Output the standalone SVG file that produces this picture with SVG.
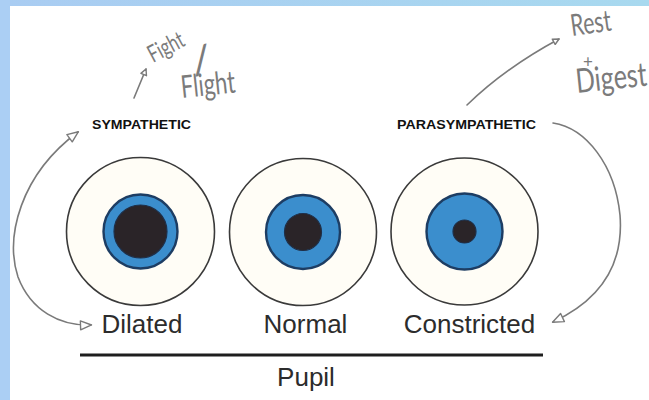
<svg xmlns="http://www.w3.org/2000/svg" width="649" height="400" viewBox="0 0 649 400">
  <defs>
    <linearGradient id="topBand" x1="0" y1="0" x2="1" y2="0">
      <stop offset="0" stop-color="#a9ccf2"/>
      <stop offset="1" stop-color="#a8d9ef"/>
    </linearGradient>
    <marker id="openHead" viewBox="0 0 14 12" refX="12" refY="6" markerWidth="14" markerHeight="12" markerUnits="userSpaceOnUse" orient="auto-start-reverse">
      <path d="M1.5,1.5 L12.5,6 L1.5,10.5 Z" fill="#ffffff" stroke="#7a7a7a" stroke-width="1.4" stroke-linejoin="round"/>
    </marker>
    <marker id="smallHead" viewBox="0 0 8 8" refX="7" refY="4" markerWidth="8" markerHeight="8" markerUnits="userSpaceOnUse" orient="auto">
      <path d="M1,1 L7,4 L1,7 Z" fill="#ffffff" stroke="#7a7a7a" stroke-width="1.4" stroke-linejoin="round"/>
    </marker>
    <style>
      .sclera { fill: #fffdf6; stroke: #3a3a3a; stroke-width: 1.6; }
      .iris { fill: #3b8ecd; stroke: #1d3d63; stroke-width: 2.4; }
      .pupil { fill: #2a2428; stroke: #1f2f48; stroke-width: 1.2; }
      .caps { font-family: "Liberation Sans", Arial, sans-serif; font-weight: bold; font-size: 13px; fill: #111111; }
      .label { font-family: "Liberation Sans", Arial, sans-serif; font-size: 26px; fill: #2c2c2c; text-anchor: middle; }
      .hand { font-family: Lato, "Open Sans", sans-serif; font-weight: 400; fill: #7b7b7b; }
      .pen { fill: none; stroke: #7a7a7a; stroke-width: 1.6; stroke-linecap: round; }
    </style>
  </defs>

  <!-- page background with the framed edges -->
  <rect x="0" y="0" width="649" height="400" fill="#ffffff"/>
  <rect x="0" y="0" width="649" height="6" fill="url(#topBand)"/>
  <rect x="0" y="0" width="10" height="400" fill="#abcff4"/>

  <!-- pupil states -->
  <g id="eye-dilated">
    <circle class="sclera" cx="140.5" cy="231.5" r="74"/>
    <circle class="iris" cx="140.5" cy="231.5" r="37"/>
    <circle class="pupil" cx="140.5" cy="231.5" r="26.5"/>
    <text class="label" x="142" y="333">Dilated</text>
  </g>
  <g id="eye-normal">
    <circle class="sclera" cx="303" cy="232" r="73.5"/>
    <circle class="iris" cx="303" cy="232" r="37"/>
    <circle class="pupil" cx="303" cy="232" r="18.5"/>
    <text class="label" x="305.5" y="333">Normal</text>
  </g>
  <g id="eye-constricted">
    <circle class="sclera" cx="464.5" cy="231.5" r="73.5"/>
    <circle class="iris" cx="464.5" cy="231.5" r="38"/>
    <circle class="pupil" cx="464.5" cy="231.5" r="11.5"/>
    <text class="label" x="469.5" y="333">Constricted</text>
  </g>

  <!-- shared axis -->
  <g id="axis">
    <line x1="80" y1="355" x2="543" y2="355" stroke="#1e1e1e" stroke-width="3"/>
    <text class="label" x="306" y="386" font-size="25">Pupil</text>
  </g>

  <!-- nervous system headings -->
  <g id="sympathetic">
    <text class="caps" x="92" y="129" textLength="99" lengthAdjust="spacingAndGlyphs">SYMPATHETIC</text>
  </g>
  <g id="parasympathetic">
    <text class="caps" x="397" y="129" textLength="139" lengthAdjust="spacingAndGlyphs">PARASYMPATHETIC</text>
  </g>

  <!-- handwritten notes -->
  <g id="note-fight-flight">
    <text class="hand" font-size="20" transform="translate(153 63) rotate(-28) scale(0.85 1.2)">Fight</text>
    <text class="hand" font-size="40" transform="translate(194 75) rotate(-8)">/</text>
    <text class="hand" font-size="26" transform="translate(182 98) rotate(-6) scale(0.85 1.2)">Flight</text>
  </g>
  <g id="note-rest-digest">
    <text class="hand" font-size="25" transform="translate(572 36) rotate(-8) scale(0.85 1.2)">Rest</text>
    <text class="hand" font-size="17" x="583" y="68">+</text>
    <text class="hand" font-size="28" transform="translate(577 93) rotate(-6) scale(0.9 1.2)">Digest</text>
  </g>

  <!-- connectors -->
  <g id="connectors">
    <path class="pen" d="M91,325 C60,326 31,311 18,277 C5,237 20,175 78,132" marker-start="url(#openHead)" marker-end="url(#openHead)"/>
    <path class="pen" d="M553,123 C586,128 615,165 620,215 C624,265 600,300 553,322" marker-end="url(#openHead)"/>
    <path class="pen" d="M134,98 L146,69" marker-end="url(#smallHead)"/>
    <path class="pen" d="M467,105 Q505,68 559,39" marker-end="url(#smallHead)"/>
  </g>
</svg>
